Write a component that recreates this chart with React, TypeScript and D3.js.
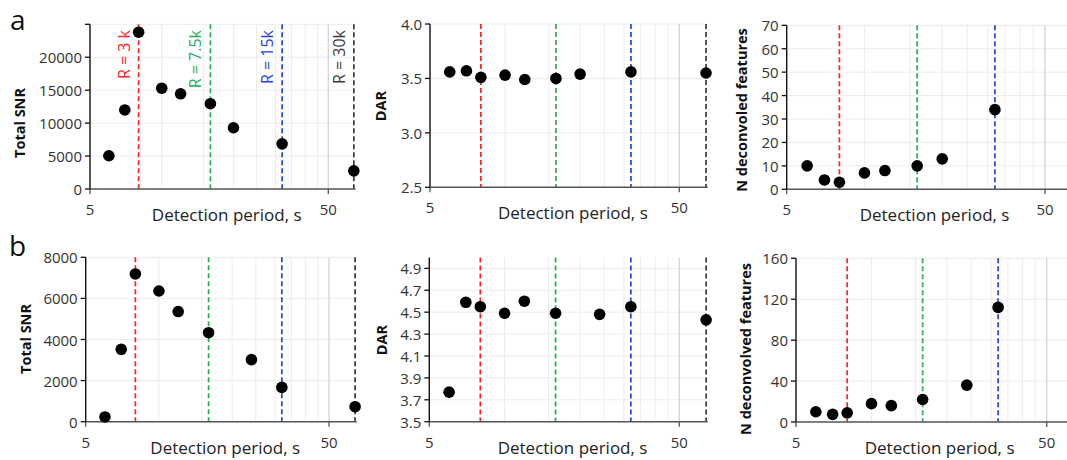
import React from "react";
import * as d3 from "d3";

// ---------- data ----------
const periodsA = [6, 7, 8, 10, 12, 16, 20, 32, 64];
const snrA = [5050, 12000, 23800, 15300, 14450, 12950, 9300, 6850, 2750];
const darA = [3.56, 3.57, 3.51, 3.53, 3.49, 3.5, 3.54, 3.56, 3.55];
const periodsA3 = [6, 7, 8, 10, 12, 16, 20, 32];
const featuresA = [10, 4, 3, 7, 8, 10, 13, 34];

const periodsB = [6, 7, 8, 10, 12, 16, 24, 32, 64];
const snrB = [230, 3520, 7190, 6360, 5360, 4330, 3020, 1670, 730];
const darB = [3.77, 4.59, 4.55, 4.49, 4.6, 4.49, 4.48, 4.55, 4.43];
const periodsB3 = [6, 7, 8, 10, 12, 16, 24, 32];
const featuresB = [10, 7.5, 9, 18, 16, 22, 36, 112];

const resolutionPeriods = [8, 16, 32, 64];
const resolutionLabels = ["R = 3 k", "R = 7.5k", "R = 15k", "R = 30k"];
const resolutionColors = ["#ff2222", "#22b05a", "#2545d6", "#3a3a3a"];

const xTickValues = [5, 50];
const xMinorGrid = [10, 15, 20, 25, 30, 35, 40, 45];
const xTitle = "Detection period, s";

const ticksSnrA = [0, 5000, 10000, 15000, 20000, 25000];
const labelsSnrA = [0, 5000, 10000, 15000, 20000];
const ticksDarA = [2.5, 3.0, 3.5, 4.0];
const ticksFeatA = [0, 10, 20, 30, 40, 50, 60, 70];
const ticksSnrB = [0, 2000, 4000, 6000, 8000];
const ticksDarB = [3.5, 3.7, 3.9, 4.1, 4.3, 4.5, 4.7, 4.9];
const ticksFeatB = [0, 40, 80, 120, 160];

// ---------- layout ----------
type Panel = {
  xs: number[];
  ys: number[];
  x0: number;
  dec: number;
  top: number;
  bottom: number;
  yDomain: [number, number];
  ticks: number[];
  labels: number[];
  fmt: (v: number) => string;
  yTitle: string;
  yTitleX: number;
  yTitleY: number;
  rLabels?: boolean;
};

const FONT = "'Open Sans', 'DejaVu Sans', sans-serif";
const fmtInt = d3.format("d");
const fmt1 = d3.format(".1f");

const panels: Panel[] = [
  { xs: periodsA, ys: snrA, x0: 90, dec: 238.3, top: 24.3, bottom: 189, yDomain: [0, 25000], ticks: ticksSnrA, labels: labelsSnrA, fmt: fmtInt, yTitle: "Total SNR", yTitleX: 19, yTitleY: 123, rLabels: true },
  { xs: periodsA, ys: darA, x0: 430, dec: 249.3, top: 24, bottom: 187.3, yDomain: [2.5, 4.0], ticks: ticksDarA, labels: ticksDarA, fmt: fmt1, yTitle: "DAR", yTitleX: 380, yTitleY: 106 },
  { xs: periodsA3, ys: featuresA, x0: 786.7, dec: 258.3, top: 25.3, bottom: 189.3, yDomain: [0, 70], ticks: ticksFeatA, labels: ticksFeatA, fmt: fmtInt, yTitle: "N deconvoled features", yTitleX: 741, yTitleY: 110 },
  { xs: periodsB, ys: snrB, x0: 85.7, dec: 243.3, top: 257.3, bottom: 421.7, yDomain: [0, 8000], ticks: ticksSnrB, labels: ticksSnrB, fmt: fmtInt, yTitle: "Total SNR", yTitleX: 25, yTitleY: 339 },
  { xs: periodsB, ys: darB, x0: 429.3, dec: 250, top: 257.4, bottom: 421.7, yDomain: [3.5, 5.0], ticks: ticksDarB, labels: ticksDarB, fmt: fmt1, yTitle: "DAR", yTitleX: 381, yTitleY: 340 },
  { xs: periodsB3, ys: featuresB, x0: 796, dec: 250.7, top: 258.3, bottom: 422, yDomain: [0, 160], ticks: ticksFeatB, labels: ticksFeatB, fmt: fmtInt, yTitle: "N deconvolved features", yTitleX: 745, yTitleY: 349 },
];

function PanelView({ p }: { p: Panel }) {
  const xMax = 65;
  const x = d3
    .scaleLog()
    .domain([5, xMax])
    .range([p.x0, p.x0 + p.dec * Math.log10(xMax / 5)]);
  const y = d3.scaleLinear().domain(p.yDomain).range([p.bottom, p.top]);
  const [xl, xr] = x.range();
  const tickColor = "#333";
  return (
    <g>
      {/* horizontal grid */}
      {p.ticks
        .filter((t) => t !== p.yDomain[0])
        .map((t) => (
          <line key={"h" + t} x1={xl} x2={xr} y1={y(t)} y2={y(t)} stroke="#ececec" strokeWidth={1} />
        ))}
      {/* vertical grid */}
      {xMinorGrid.map((v) => (
        <line key={"v" + v} x1={x(v)} x2={x(v)} y1={p.top} y2={p.bottom} stroke="#ececec" strokeWidth={1} />
      ))}
      <line x1={x(50)} x2={x(50)} y1={p.top} y2={p.bottom} stroke="#d4d4d4" strokeWidth={1.3} />
      {/* resolution lines */}
      {resolutionPeriods.map((r, i) => (
        <line
          key={"r" + r}
          x1={x(r)}
          x2={x(r)}
          y1={p.top}
          y2={p.bottom}
          stroke={resolutionColors[i]}
          strokeWidth={1.7}
          strokeDasharray="5,3"
        />
      ))}
      {p.rLabels &&
        resolutionPeriods.map((r, i) => (
          <text
            key={"rl" + r}
            transform={`translate(${x(r) - 15},30) rotate(-90)`}
            textAnchor="end"
            dominantBaseline="central"
            fontFamily={FONT}
            fontSize={16}
            fill={resolutionColors[i]}
          >
            {resolutionLabels[i]}
          </text>
        ))}
      {/* axes */}
      <line x1={xl} x2={xr} y1={p.bottom} y2={p.bottom} stroke="#555" strokeWidth={1.5} />
      {xTickValues.map((v) => (
        <g key={"xt" + v}>
          <line x1={x(v)} x2={x(v)} y1={p.bottom} y2={p.bottom + 5} stroke="#555" strokeWidth={1.3} />
          <text x={x(v)} y={p.bottom + 26} textAnchor="middle" fontFamily={FONT} fontSize={15} fill={tickColor}>
            {v}
          </text>
        </g>
      ))}
      <text x={(xl + xr) / 2 + 4} y={p.bottom + 32} textAnchor="middle" fontFamily={FONT} fontSize={17} fill="#222">
        {xTitle}
      </text>
      <line x1={xl} x2={xl} y1={p.top} y2={p.bottom} stroke="#111" strokeWidth={1.4} />
      {p.ticks.map((t) => (
        <line key={"yt" + t} x1={xl - 5} x2={xl} y1={y(t)} y2={y(t)} stroke="#111" strokeWidth={1.3} />
      ))}
      {p.labels.map((t) => (
        <text
          key={"yl" + t}
          x={xl - 8}
          y={y(t)}
          textAnchor="end"
          dominantBaseline="central"
          fontFamily={FONT}
          fontSize={15}
          fill={tickColor}
        >
          {p.fmt(t)}
        </text>
      ))}
      <text
        transform={`translate(${p.yTitleX},${p.yTitleY}) rotate(-90)`}
        textAnchor="middle"
        dominantBaseline="central"
        fontFamily={FONT}
        fontWeight="bold"
        fontSize={14.5}
        fill="#111"
      >
        {p.yTitle}
      </text>
      {/* points */}
      {p.xs.map((v, i) => (
        <circle key={"c" + i} cx={x(v)} cy={y(p.ys[i])} r={5.8} fill="#000" />
      ))}
    </g>
  );
}

export default function App() {
  return (
    <svg
      width={1067}
      height={460}
      style={{ position: "absolute", left: 0, top: 0, background: "#fff" }}
    >
      <rect x={0} y={0} width={1067} height={460} fill="#fff" />
      {panels.map((p, i) => (
        <PanelView key={i} p={p} />
      ))}
      <text x={10} y={30} fontFamily={FONT} fontSize={28} fill="#111">
        a
      </text>
      <text x={9} y={256} fontFamily={FONT} fontSize={28} fill="#111">
        b
      </text>
    </svg>
  );
}
